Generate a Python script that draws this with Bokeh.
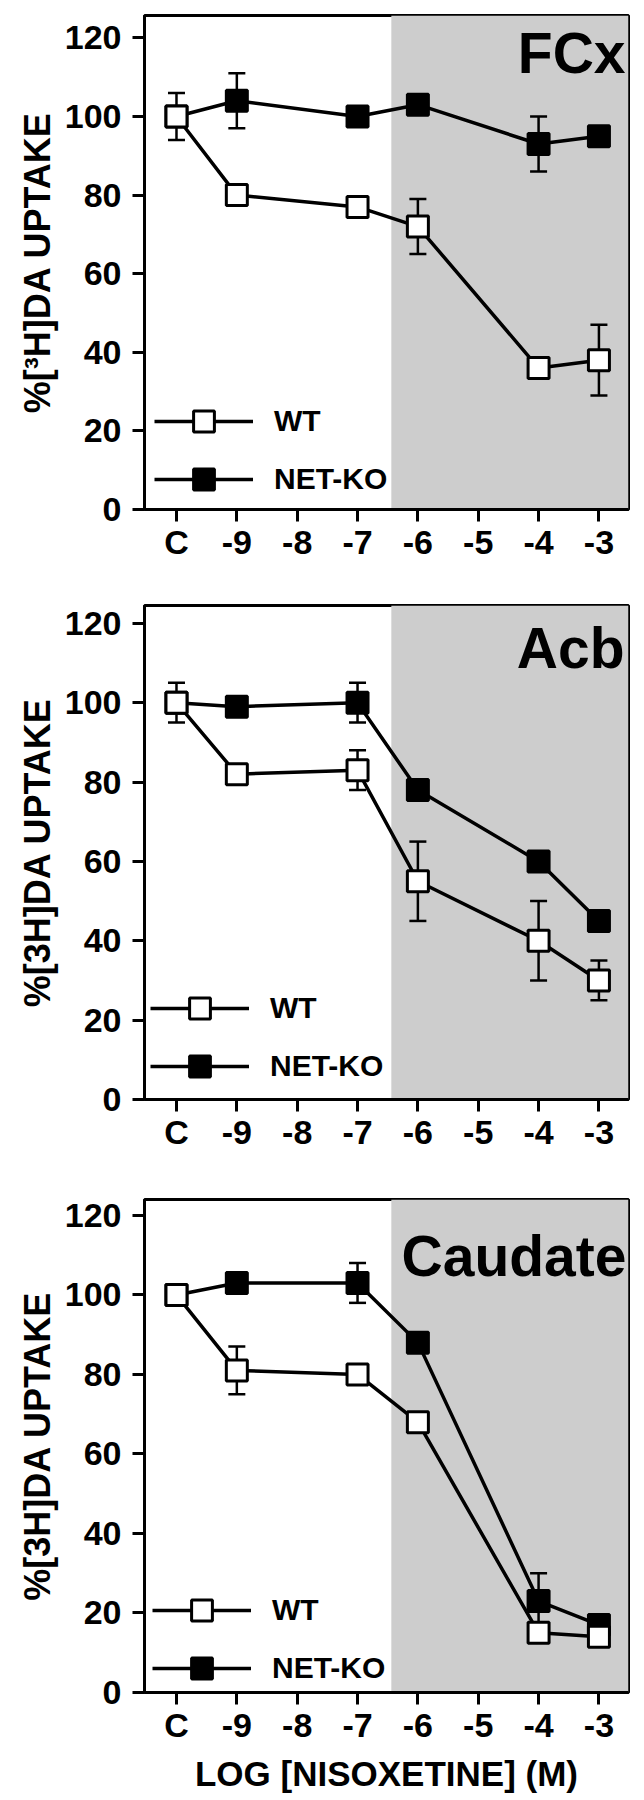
from bokeh.plotting import figure
from bokeh.models import (Range1d, FixedTicker, BoxAnnotation, Whisker, TeeHead,
                          ColumnDataSource, Legend, LegendItem, Label)
from bokeh.layouts import column
from bokeh.embed import file_html
from bokeh.resources import INLINE

FONT = "Liberation Sans"

# ---------------- data ----------------
tick_labels = ["C", "-9", "-8", "-7", "-6", "-5", "-4", "-3"]
doses = ["C", "-9", "-7", "-6", "-4", "-3"]
y_ticks = [0, 20, 40, 60, 80, 100, 120]

wt_fcx = [100, 80, 77, 72, 36, 38]
wt_fcx_err = [6, 0, 0, 7, 0, 9]
ko_fcx = [100, 104, 100, 103, 93, 95]
ko_fcx_err = [0, 7, 0, 0, 7, 0]

wt_acb = [100, 82, 83, 55, 40, 30]
wt_acb_err = [5, 0, 5, 10, 10, 5]
ko_acb = [100, 99, 100, 78, 60, 45]
ko_acb_err = [0, 0, 5, 0, 0, 0]

wt_cau = [100, 81, 80, 68, 15, 14]
wt_cau_err = [0, 6, 0, 0, 0, 0]
ko_cau = [100, 103, 103, 88, 23, 17]
ko_cau_err = [0, 0, 5, 0, 7, 0]

x_title = "LOG [NISOXETINE] (M)"
shade_start = 3.56


def make_panel(name, ytitle, wt, wt_err, ko, ko_err, height, borders, ymax,
               leg_loc, name_pos, show_xtitle=False):
    top, right, bottom, left = borders
    p = figure(width=640, height=height, output_backend="svg", toolbar_location=None,
               x_range=Range1d(-0.53, 7.49), y_range=Range1d(0, ymax),
               min_border_top=top, min_border_right=right,
               min_border_bottom=bottom, min_border_left=left)
    p.background_fill_color = "white"
    p.border_fill_color = "white"
    p.outline_line_color = "black"
    p.outline_line_width = 3
    p.outline_line_alpha = 1
    p.xgrid.visible = False
    p.ygrid.visible = False

    xs = [tick_labels.index(d) for d in doses]

    shade = BoxAnnotation(left=shade_start, fill_color="#cdcdcd", fill_alpha=1,
                          line_alpha=0, level="underlay")
    p.add_layout(shade)

    for vals, errs in ((ko, ko_err), (wt, wt_err)):
        ex = [x for x, e in zip(xs, errs) if e > 0]
        lo = [v - e for v, e in zip(vals, errs) if e > 0]
        up = [v + e for v, e in zip(vals, errs) if e > 0]
        src = ColumnDataSource(dict(x=ex, lower=lo, upper=up))
        w = Whisker(base="x", lower="lower", upper="upper", source=src,
                    line_color="black", line_width=2.5,
                    upper_head=TeeHead(size=17, line_color="black", line_width=2.5),
                    lower_head=TeeHead(size=17, line_color="black", line_width=2.5))
        p.add_layout(w)

    ko_line = p.line(xs, ko, line_color="black", line_width=3.5)
    wt_line = p.line(xs, wt, line_color="black", line_width=3.5)
    ko_pts = p.scatter(xs, ko, marker="square", size=21, fill_color="black",
                       line_color="black", line_width=3)
    wt_pts = p.scatter(xs, wt, marker="square", size=21, fill_color="white",
                       line_color="black", line_width=3)

    legend = Legend(items=[LegendItem(label="WT", renderers=[wt_line, wt_pts]),
                           LegendItem(label="NET-KO", renderers=[ko_line, ko_pts])],
                    location=leg_loc, glyph_width=99, glyph_height=52, spacing=6,
                    padding=0, margin=0, label_standoff=21,
                    border_line_alpha=0, background_fill_alpha=0,
                    label_text_font=FONT, label_text_font_style="bold",
                    label_text_font_size="30px", label_text_color="black")
    p.add_layout(legend)

    p.add_layout(Label(x=name_pos[0], y=name_pos[1], x_units="screen", y_units="screen",
                       text=name, text_align="right", text_baseline="alphabetic",
                       text_font=FONT, text_font_style="bold", text_font_size="57px",
                       text_color="black"))

    p.xaxis.ticker = FixedTicker(ticks=list(range(len(tick_labels))))
    p.xaxis.major_label_overrides = {i: lab for i, lab in enumerate(tick_labels)}
    p.yaxis.ticker = FixedTicker(ticks=y_ticks)
    for ax in (p.xaxis[0], p.yaxis[0]):
        ax.axis_line_width = 3
        ax.axis_line_color = "black"
        ax.major_tick_line_width = 3
        ax.major_tick_line_color = "black"
        ax.major_tick_out = 12
        ax.major_tick_in = 0
        ax.minor_tick_line_color = None
        ax.major_label_text_font = FONT
        ax.major_label_text_font_style = "bold"
        ax.major_label_text_color = "black"
        ax.axis_label_text_font = FONT
        ax.axis_label_text_font_style = "bold"
        ax.axis_label_text_color = "black"
    p.xaxis.major_label_text_font_size = "34px"
    p.xaxis.major_label_standoff = 1
    p.yaxis.major_label_text_font_size = "34px"
    p.yaxis.major_label_standoff = 11
    p.yaxis.axis_label = ytitle
    p.yaxis.axis_label_text_font_size = "36px"
    p.yaxis.axis_label_standoff = 4
    if show_xtitle:
        p.xaxis.axis_label = x_title
        p.xaxis.axis_label_text_font_size = "35px"
        p.xaxis.axis_label_standoff = 7
    return p


p1 = make_panel("FCx", "%[\u00b3H]DA UPTAKE", wt_fcx, wt_fcx_err, ko_fcx, ko_fcx_err,
                height=575, borders=(15, 12, 66, 136), ymax=125.7,
                leg_loc=(10, 4.5), name_pos=(481, 457))
p2 = make_panel("Acb", "%[3H]DA UPTAKE", wt_acb, wt_acb_err, ko_acb, ko_acb_err,
                height=594, borders=(30, 6, 70, 140), ymax=124.5,
                leg_loc=(6, 7.5), name_pos=(480, 452))
p3 = make_panel("Caudate", "%[3H]DA UPTAKE", wt_cau, wt_cau_err, ko_cau, ko_cau_err,
                height=627, borders=(30, 6, 104, 144), ymax=124.0,
                leg_loc=(8, -1.5), name_pos=(482, 437), show_xtitle=True)

layout = column(p1, p2, p3, spacing=0)
open("out.html", "w").write(file_html(layout, INLINE))
